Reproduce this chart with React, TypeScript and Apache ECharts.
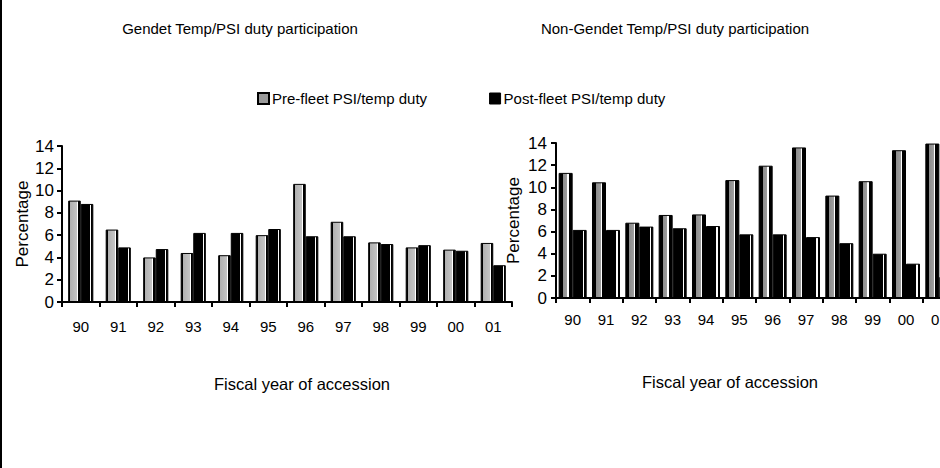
import React, { useEffect, useRef } from "react";
import * as echarts from "echarts";

const categories = ["90", "91", "92", "93", "94", "95", "96", "97", "98", "99", "00", "01"];
const gendetPre = [9.1, 6.5, 4.0, 4.4, 4.2, 6.0, 10.6, 7.2, 5.35, 4.9, 4.7, 5.3];
const gendetPost = [8.8, 4.9, 4.75, 6.2, 6.2, 6.55, 5.9, 5.9, 5.2, 5.1, 4.6, 3.3];
const nonGendetPre = [11.3, 10.45, 6.8, 7.5, 7.55, 10.65, 11.95, 13.6, 9.25, 10.55, 13.35, 13.95];
const nonGendetPost = [6.15, 6.15, 6.45, 6.3, 6.5, 5.75, 5.75, 5.5, 4.95, 4.0, 3.1, 1.9];
const seriesNames = ["Pre-fleet PSI/temp duty", "Post-fleet PSI/temp duty"];
const titles = ["Gendet Temp/PSI duty participation", "Non-Gendet Temp/PSI duty participation"];
const xAxisTitle = "Fiscal year of accession";
const yAxisTitle = "Percentage";
const yMin = 0;
const yMax = 14;
const yStep = 2;

const FONT = "'Liberation Sans', Arial, sans-serif";

function grad(stops: [number, string][]) {
  return {
    type: "linear",
    x: 0,
    y: 0,
    x2: 1,
    y2: 0,
    colorStops: stops.map(([offset, color]) => ({ offset, color })),
  };
}

const preFillLight = grad([
  [0, "#000"], [0.14, "#000"], [0.14, "#b0b0b0"], [0.72, "#c4c4c4"],
  [0.72, "#fff"], [0.82, "#fff"], [0.82, "#000"], [1, "#000"],
]);
const preFillDark = grad([
  [0, "#000"], [0.28, "#000"], [0.28, "#8c8c8c"], [0.64, "#a0a0a0"],
  [0.64, "#fff"], [0.74, "#fff"], [0.74, "#000"], [1, "#000"],
]);
const postFill = grad([
  [0, "#000"], [0.76, "#000"], [0.76, "#fff"], [0.85, "#fff"], [0.85, "#000"], [1, "#000"],
]);

function axisPair(gridIndex: number, opts: any) {
  const x = {
    type: "category",
    gridIndex,
    data: categories,
    boundaryGap: true,
    axisLine: { show: true, lineStyle: { color: "#000", width: 2 } },
    axisTick: { show: true, alignWithLabel: false, length: 5, lineStyle: { color: "#000", width: 2 } },
    axisLabel: { color: "#000", fontSize: 15, fontFamily: FONT, margin: opts.xLabelMargin },
  };
  const y = {
    type: "value",
    gridIndex,
    min: yMin,
    max: yMax,
    interval: yStep,
    splitLine: { show: false },
    axisLine: { show: true, lineStyle: { color: "#000", width: 2 } },
    axisTick: { show: true, length: 5, lineStyle: { color: "#000", width: 2 } },
    axisLabel: { color: "#000", fontSize: 17, fontFamily: FONT, margin: opts.yLabelMargin },
    name: yAxisTitle,
    nameLocation: "middle",
    nameGap: opts.yNameGap,
    nameRotate: 90,
    nameTextStyle: { color: "#000", fontSize: 17, fontFamily: FONT },
  };
  return { x, y };
}

export default function App() {
  const ref = useRef<HTMLDivElement>(null);
  useEffect(() => {
    if (!ref.current) return;
    const chart = echarts.init(ref.current, null, { renderer: "svg" });
    const a0 = axisPair(0, { xLabelMargin: 17, yLabelMargin: 8, yNameGap: 30 });
    const a1 = axisPair(1, { xLabelMargin: 14, yLabelMargin: 9, yNameGap: 34 });
    const barBase = { type: "bar", barGap: "0%", itemStyle: { borderColor: "#000", borderWidth: 1 } };
    const textStyle = { fontSize: 15, fontWeight: "normal", color: "#000", fontFamily: FONT };
    chart.setOption({
      animation: false,
      backgroundColor: "#fff",
      title: [
        { text: titles[0], left: 235, top: 16, textAlign: "center", textStyle },
        { text: titles[1], left: 670, top: 16, textAlign: "center", textStyle },
      ],
      legend: {
        left: 252,
        top: 86,
        itemGap: 62,
        itemWidth: 11,
        itemHeight: 11,
        icon: "rect",
        textStyle: { fontSize: 15, color: "#000", fontFamily: FONT, padding: [0, 0, 0, -2] },
        data: [
          { name: seriesNames[0], itemStyle: { color: "#9a9a9a", borderColor: "#000", borderWidth: 2 } },
          { name: seriesNames[1], itemStyle: { color: "#000", borderColor: "#000", borderWidth: 1 } },
        ],
      },
      grid: [
        { left: 62, top: 146, width: 450, height: 156, containLabel: false, outerBoundsMode: "none" },
        { left: 556, top: 143, width: 400, height: 155, containLabel: false, outerBoundsMode: "none" },
      ],
      xAxis: [a0.x, a1.x],
      yAxis: [a0.y, a1.y],
      graphic: [
        { type: "rect", left: 0, top: 0, shape: { width: 2, height: 468 }, style: { fill: "#000" } },
        { type: "text", x: 302, y: 384, style: { text: xAxisTitle, fontSize: 16.5, fontFamily: FONT, fill: "#000", align: "center", verticalAlign: "middle" } },
        { type: "text", x: 730, y: 382, style: { text: xAxisTitle, fontSize: 16.5, fontFamily: FONT, fill: "#000", align: "center", verticalAlign: "middle" } },
      ],
      series: [
        { ...barBase, name: seriesNames[0], xAxisIndex: 0, yAxisIndex: 0, data: gendetPre, barCategoryGap: "33%", itemStyle: { ...barBase.itemStyle, color: preFillLight } },
        { ...barBase, name: seriesNames[1], xAxisIndex: 0, yAxisIndex: 0, data: gendetPost, barCategoryGap: "33%", itemStyle: { ...barBase.itemStyle, color: postFill } },
        { ...barBase, name: seriesNames[0], xAxisIndex: 1, yAxisIndex: 1, data: nonGendetPre, barCategoryGap: "16%", itemStyle: { ...barBase.itemStyle, color: preFillDark } },
        { ...barBase, name: seriesNames[1], xAxisIndex: 1, yAxisIndex: 1, data: nonGendetPost, barCategoryGap: "16%", itemStyle: { ...barBase.itemStyle, color: postFill } },
      ],
    });
    return () => chart.dispose();
  }, []);
  return (
    <div
      ref={ref}
      style={{ position: "fixed", left: 0, top: 0, width: 940, height: 468, background: "#fff" }}
    />
  );
}
